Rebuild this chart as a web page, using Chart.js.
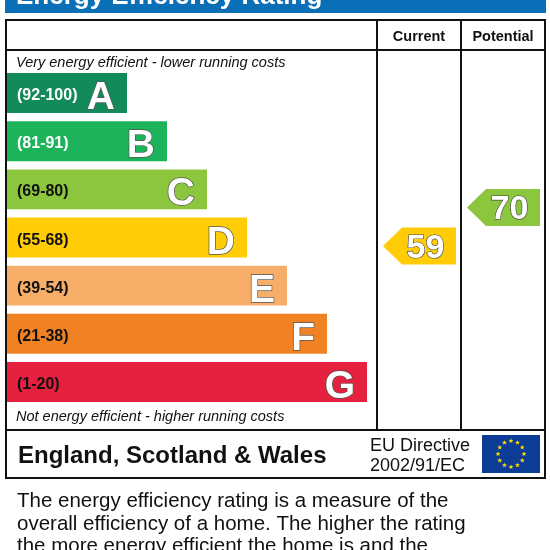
<!DOCTYPE html>
<html><head><meta charset="utf-8">
<script src="https://cdn.jsdelivr.net/npm/chart.js@4.4.1/dist/chart.umd.min.js"></script>
<style>html,body{margin:0;padding:0;background:#fff;overflow:hidden}#wrap{width:550px;height:550px;position:relative}</style>
</head><body><div id="wrap"><canvas id="c" width="550" height="550"></canvas></div>
<script>
const bands = ['A','B','C','D','E','F','G'];
const ranges = ['(92-100)','(81-91)','(69-80)','(55-68)','(39-54)','(21-38)','(1-20)'];
const bandLow = [92,81,69,55,39,21,1];
const bandHigh = [100,91,80,68,54,38,20];
const barLengths = [3,4,5,6,7,8,9];
const bandColors = ['#138a59','#1cb35b','#8cc63f','#ffcc05','#f7ae68','#f08224','#e6203f'];
const rangeTextColors = ['#ffffff','#ffffff','#111111','#111111','#111111','#111111','#111111'];
const currentRating = 59;
const potentialRating = 70;
const titleText = 'Energy Efficiency Rating';
const columnHeaders = ['Current','Potential'];
const topNote = 'Very energy efficient - lower running costs';
const bottomNote = 'Not energy efficient - higher running costs';
const regionText = 'England, Scotland & Wales';
const directiveLines = ['EU Directive','2002/91/EC'];
const paragraphLines = ['The energy efficiency rating is a measure of the','overall efficiency of a home. The higher the rating','the more energy efficient the home is and the'];

const FONT = '"Liberation Sans", Arial, sans-serif';

function star(ctx, cx, cy, r){
  ctx.beginPath();
  for(let k=0;k<10;k++){
    const rr = k%2===0 ? r : r*0.42;
    const a = -Math.PI/2 + k*Math.PI/5;
    const px = cx + rr*Math.cos(a), py = cy + rr*Math.sin(a);
    if(k===0) ctx.moveTo(px,py); else ctx.lineTo(px,py);
  }
  ctx.closePath(); ctx.fill();
}

function bandIndexFor(v){
  for(let i=0;i<bandLow.length;i++){ if(v>=bandLow[i] && v<=bandHigh[i]) return i; }
  return bandLow.length-1;
}

function drawArrow(chart, value, colLeft, colRight){
  const ctx = chart.ctx, y = chart.scales.y;
  const i = bandIndexFor(value);
  const pos = i - 0.5 + (bandHigh[i]-value+0.5)/(bandHigh[i]-bandLow[i]+1);
  const cy = y.getPixelForValue(pos);
  const h = 37, left = colLeft+6, right = colRight-5, tip = 19;
  ctx.fillStyle = bandColors[i];
  ctx.beginPath();
  ctx.moveTo(left, cy);
  ctx.lineTo(left+tip, cy-h/2);
  ctx.lineTo(right, cy-h/2);
  ctx.lineTo(right, cy+h/2);
  ctx.lineTo(left+tip, cy+h/2);
  ctx.closePath(); ctx.fill();
  ctx.font = 'bold 34px '+FONT;
  ctx.textAlign = 'center'; ctx.textBaseline = 'alphabetic';
  ctx.lineWidth = 1.2; ctx.strokeStyle = '#444';
  const tx = (left+right)/2+6, ty = cy+12;
  ctx.strokeText(String(value), tx, ty);
  ctx.fillStyle = '#fff';
  ctx.fillText(String(value), tx, ty);
}

const epcPlugin = {
  id:'epc',
  beforeDraw(chart){
    const ctx = chart.ctx;
    ctx.save();
    ctx.fillStyle = '#fff'; ctx.fillRect(0,0,chart.width,chart.height);
    ctx.fillStyle = '#0b6fb8'; ctx.fillRect(5,0,541,13);
    ctx.fillStyle = '#fff'; ctx.font = 'bold 26px '+FONT; ctx.textAlign='left'; ctx.textBaseline='alphabetic';
    ctx.fillText(titleText, 16, 4);
    ctx.restore();
  },
  afterDatasetsDraw(chart){
    const ctx = chart.ctx, meta = chart.getDatasetMeta(0), area = chart.chartArea;
    ctx.save();
    ctx.textBaseline = 'alphabetic';
    meta.data.forEach((bar,i)=>{
      ctx.font = 'bold 16px '+FONT; ctx.textAlign='left'; ctx.fillStyle = rangeTextColors[i];
      ctx.fillText(ranges[i], area.left+10, bar.y+7);
      ctx.font = 'bold 39px '+FONT; ctx.textAlign='right';
      ctx.lineWidth = 1.4; ctx.strokeStyle = '#555';
      ctx.strokeText(bands[i], bar.x-12, bar.y+16);
      ctx.fillStyle = '#fff';
      ctx.fillText(bands[i], bar.x-12, bar.y+16);
    });
    // frame
    ctx.strokeStyle = '#111'; ctx.lineWidth = 2;
    ctx.strokeRect(6,20,539,458);
    ctx.beginPath();
    ctx.moveTo(6,50); ctx.lineTo(545,50);
    ctx.moveTo(6,430); ctx.lineTo(545,430);
    ctx.moveTo(377,20); ctx.lineTo(377,430);
    ctx.moveTo(461,20); ctx.lineTo(461,430);
    ctx.stroke();
    // headers
    ctx.fillStyle = '#111'; ctx.font = 'bold 14.5px '+FONT; ctx.textAlign='center';
    ctx.fillText(columnHeaders[0], 419, 41);
    ctx.fillText(columnHeaders[1], 503, 41);
    // notes
    ctx.font = 'italic 14.5px '+FONT; ctx.textAlign='left';
    ctx.fillText(topNote, 16, 67);
    ctx.fillText(bottomNote, 16, 421);
    // arrows
    drawArrow(chart, currentRating, 377, 461);
    drawArrow(chart, potentialRating, 461, 545);
    // bottom row
    ctx.fillStyle = '#111'; ctx.textAlign='left'; ctx.textBaseline='alphabetic';
    ctx.font = 'bold 24px '+FONT;
    ctx.fillText(regionText, 18, 463);
    ctx.font = '18px '+FONT;
    ctx.fillText(directiveLines[0], 370, 451);
    ctx.fillText(directiveLines[1], 370, 471);
    // EU flag
    ctx.fillStyle = '#0d3c97'; ctx.fillRect(482,435,58,38);
    ctx.fillStyle = '#ffdd00';
    for(let k=0;k<12;k++){
      const a = k*Math.PI/6;
      star(ctx, 511+13*Math.sin(a), 454-13*Math.cos(a), 2.6);
    }
    // paragraph
    ctx.fillStyle = '#111'; ctx.font = '20.5px '+FONT;
    paragraphLines.forEach((l,k)=> ctx.fillText(l, 17, 507+k*22.5));
    ctx.restore();
  }
};

new Chart(document.getElementById('c'), {
  type:'bar',
  data:{ labels: bands, datasets:[{ data: barLengths, backgroundColor: bandColors, borderWidth:0, barPercentage:1, categoryPercentage:0.83 }]},
  options:{
    indexAxis:'y', responsive:false, animation:false,
    layout:{ padding:{ left:7, top:69, right:3, bottom:144 } },
    scales:{ x:{ display:false, min:0, max:13.5 }, y:{ display:false } },
    plugins:{ legend:{display:false}, tooltip:{enabled:false}, title:{display:false} }
  },
  plugins:[epcPlugin]
});
</script></body></html>
